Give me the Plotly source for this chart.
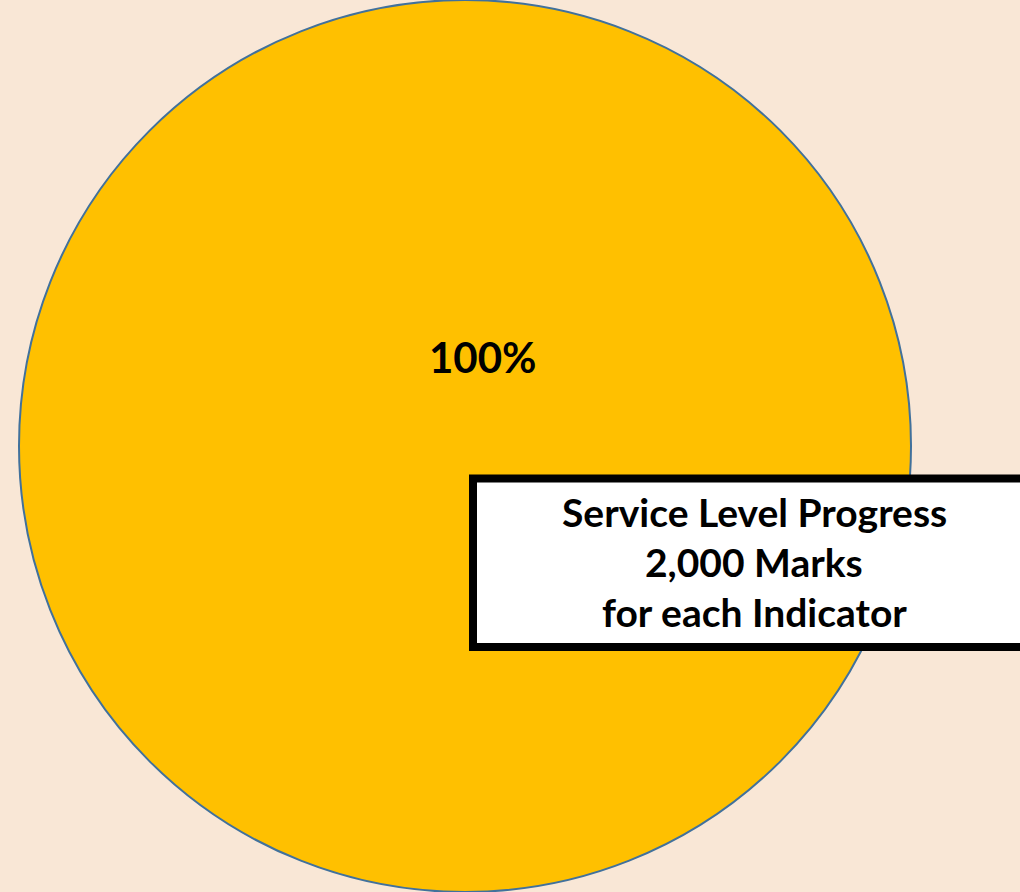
import plotly.graph_objects as go

# Data
labels = ["Service Level Progress"]
values = [2000]
box_lines = ["Service Level Progress", "2,000 Marks", "for each Indicator"]

W, H = 1020, 892
BG = "#F9E7D6"

def px(x):
    return x / W

def py(y):
    return 1 - y / H

total = sum(values)
pct_text = f"{round(values[0] / total * 100)}%"

fig = go.Figure()
fig.add_trace(go.Pie(
    labels=labels,
    values=values,
    textinfo="none",
    hoverinfo="label+percent",
    sort=False,
    marker=dict(colors=["#FFC000"], line=dict(color="#41719C", width=2)),
    domain=dict(x=[px(18), px(912)], y=[0, 1]),
    showlegend=False,
))

annotations = [
    dict(text=f"<b>{pct_text}</b>", x=px(483), y=py(357), xref="paper", yref="paper",
         showarrow=False, xanchor="center", yanchor="middle",
         font=dict(family="Lato", size=42, color="#000000")),
]
line_y = [512, 562, 612]
for t, yy in zip(box_lines, line_y):
    annotations.append(dict(text=f"<b>{t}</b>", x=px(754), y=py(yy), xref="paper", yref="paper",
                            showarrow=False, xanchor="center", yanchor="middle",
                            font=dict(family="Lato", size=39, color="#000000")))

fig.update_layout(
    width=W, height=H,
    margin=dict(l=0, r=0, t=0, b=0),
    paper_bgcolor=BG, plot_bgcolor=BG,
    shapes=[dict(type="rect", xref="paper", yref="paper",
                 x0=px(473), x1=px(1030), y0=py(478.5), y1=py(647),
                 line=dict(color="#000000", width=8), fillcolor="#FFFFFF", layer="above")],
    annotations=annotations,
)

fig.write_html(
    "out.html",
    config={"displayModeBar": False},
    post_script="document.body.style.margin='0';document.body.style.overflow='hidden';document.body.style.background='#F9E7D6';",
)
